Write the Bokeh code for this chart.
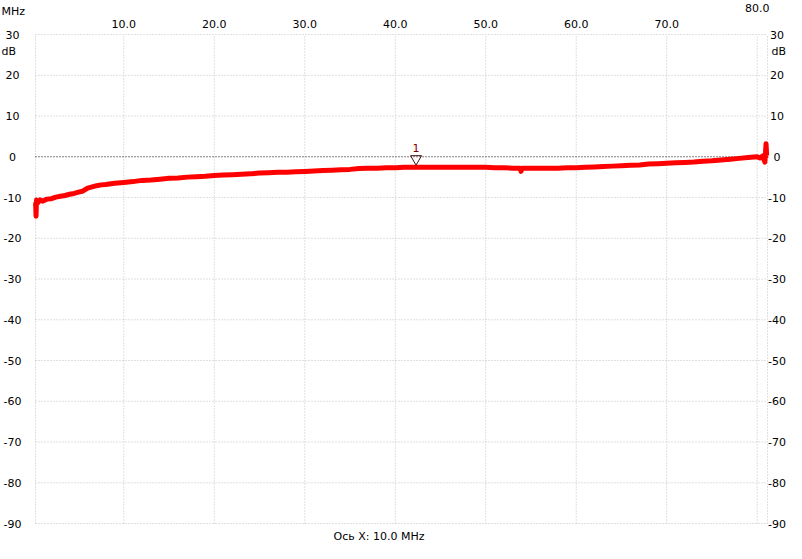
from bokeh.plotting import figure
from bokeh.models import Range1d, LinearAxis, FixedTicker, Label, ColumnDataSource
from bokeh.core.properties import value
from bokeh.embed import file_html
from bokeh.resources import INLINE

# ---- data ----
freq_mhz = [0.25, 0.3, 0.35, 0.5, 0.75, 1.0, 1.5, 2.0, 2.5, 3.0, 3.5, 4.0, 4.5, 5.0, 5.5,
            6.0, 6.5, 7.0, 7.5, 8.0, 9.0, 10, 11, 12, 13, 14, 15, 16, 17, 18, 19, 20,
            21, 22, 23, 24, 25, 26, 27, 28, 29, 30, 31, 32, 33, 34, 35, 36, 37, 38, 39, 40,
            41, 42, 43, 44, 45, 46, 47, 48, 49, 50, 51, 52, 53, 53.8, 53.9, 54.0, 55, 56, 57, 58, 59, 60,
            61, 62, 63, 64, 65, 66, 67, 68, 69, 70, 71, 72, 73, 74, 75, 76, 77, 78, 79, 80,
            80.3, 80.6, 80.85, 80.98, 81.05, 81.12]
level_db = [-11.2, -14.6, -10.6, -11.3, -10.6, -10.9, -10.4, -10.3, -9.9, -9.7, -9.5, -9.2, -9.0, -8.7, -8.4,
            -7.7, -7.4, -7.1, -6.9, -6.8, -6.5, -6.3, -6.1, -5.8, -5.7, -5.5, -5.3, -5.2, -5.0, -4.9, -4.8, -4.6,
            -4.5, -4.4, -4.3, -4.2, -4.0, -3.9, -3.8, -3.8, -3.7, -3.6, -3.5, -3.4, -3.3, -3.2, -3.1, -2.9, -2.8, -2.8, -2.7, -2.7,
            -2.6, -2.6, -2.6, -2.6, -2.6, -2.6, -2.6, -2.6, -2.6, -2.6, -2.7, -2.7, -2.8, -2.8, -3.6, -2.8, -2.8, -2.8, -2.8, -2.8, -2.7, -2.7,
            -2.6, -2.5, -2.4, -2.3, -2.2, -2.1, -2.0, -1.8, -1.7, -1.6, -1.5, -1.4, -1.3, -1.1, -1.0, -0.8, -0.6, -0.4, -0.2, 0.0,
            -0.3, 0.2, -1.3, 3.2, 0.3, 0.4]

x_start, x_end = 0.24, 81.14         # MHz span of the plot area
y_start, y_end = -90, 30             # dB span of the plot area
x_ticks = [10, 20, 30, 40, 50, 60, 70]
x_tick_labels = ["10.0", "20.0", "30.0", "40.0", "50.0", "60.0", "70.0"]
x_ticks_far = [80]
x_tick_labels_far = ["80.0"]
y_ticks = [30, 20, 10, 0, -10, -20, -30, -40, -50, -60, -70, -80, -90]
y_tick_labels = ["30", "20", "10", "0", "-10", "-20", "-30", "-40", "-50", "-60", "-70", "-80", "-90"]
grid_y = [20, 10, -10, -20, -30, -40, -50, -60, -70, -80]
ref_level = [0]
marker_freq = [42.3]
marker_db = [-2.6]
marker_name = ["1"]
x_unit = "MHz"
y_unit = "dB"
scale_text = "Ось X: 10.0 MHz"

# ---- styling / layout ----
FONT = "DejaVu Sans"
FS = "11px"
W, H = 786, 543
ML, MR, MT, MB = 35, 19, 34, 20      # plot-area margins inside the canvas (px)
GRID = "#c0c0c0"

px_x = (W - ML - MR) / (x_end - x_start)
px_y = (H - MT - MB) / (y_end - y_start)
x_lo, x_hi = x_start - ML / px_x, x_end + MR / px_x
y_lo, y_hi = y_start - MB / px_y, y_end + MT / px_y

p = figure(width=W, height=H, output_backend="svg", toolbar_location=None,
           x_range=Range1d(x_lo, x_hi), y_range=Range1d(y_lo, y_hi),
           x_axis_location=None, y_axis_location=None,
           min_border=0, min_border_left=0, min_border_right=0,
           min_border_top=0, min_border_bottom=0,
           background_fill_color="white", border_fill_color="white")
p.outline_line_color = None
p.xgrid.visible = False
p.ygrid.visible = False


def style_axis(ax, standoff):
    ax.axis_line_color = None
    ax.major_tick_line_color = None
    ax.minor_tick_line_color = None
    ax.major_label_standoff = standoff
    ax.major_label_text_font = FONT
    ax.major_label_text_font_size = FS
    ax.major_label_text_color = "black"
    return ax


xa = style_axis(LinearAxis(ticker=FixedTicker(ticks=x_ticks), fixed_location=y_end,
                           major_label_overrides=dict(zip(x_ticks, x_tick_labels))), 1)
xb = style_axis(LinearAxis(ticker=FixedTicker(ticks=x_ticks_far), fixed_location=y_end,
                           major_label_overrides=dict(zip(x_ticks_far, x_tick_labels_far))), 17)
p.add_layout(xa, "above")
p.add_layout(xb, "above")

# dotted grid of the plot area (edges included)
vx = [x_start] + x_ticks + x_ticks_far + [x_end]
p.segment(x0=vx, y0=[y_start] * len(vx), x1=vx, y1=[y_end] * len(vx),
          line_color=GRID, line_dash="1 2", line_width=1)
hy = [y_end] + grid_y + [y_start]
p.segment(x0=[x_start] * len(hy), y0=hy, x1=[x_end] * len(hy), y1=hy,
          line_color=GRID, line_dash="1 2", line_width=1)
p.segment(x0=[x_start], y0=ref_level, x1=[x_end], y1=ref_level,
          line_color="black", line_dash="1 2", line_width=1)

# dB scale labels on both sides (centred, like the reference)
n = len(y_ticks)
p.text(x=[x_start] * n, y=y_ticks, text=y_tick_labels, x_offset=-23,
       text_align="center", text_baseline="middle", text_font=value(FONT),
       text_font_size=FS, text_color="black")
p.text(x=[x_end] * n, y=y_ticks, text=y_tick_labels, x_offset=9.5,
       text_align="center", text_baseline="middle", text_font=value(FONT),
       text_font_size=FS, text_color="black")

# trace
src = ColumnDataSource(dict(f=freq_mhz, db=level_db))
p.line("f", "db", source=src, line_color="#ff0000", line_width=5, line_join="round")

# marker 1
tri_y = [m + 8.5 / px_y for m in marker_db]
p.scatter(marker_freq, tri_y, marker="inverted_triangle", size=11,
          fill_color=None, line_color="#4a1010", line_width=1)
msrc = ColumnDataSource(dict(f=marker_freq, db=marker_db, name=marker_name))
p.text("f", "db", text="name", source=msrc, y_offset=-19, text_align="center",
       text_baseline="middle", text_font=value(FONT), text_font_size=FS, text_color="#800000")


def lab(txt, x, y, baseline="middle"):
    p.add_layout(Label(x=x, y=y, x_units="screen", y_units="screen", text=txt,
                       text_font=FONT, text_font_size=FS, text_color="black",
                       text_align="left", text_baseline=baseline))


lab(x_unit, 1, H - 4, baseline="top")
lab(y_unit, 1, H - 50.5)
lab(y_unit, 771, H - 50.5)
lab(scale_text, 333, 1, baseline="bottom")

open("out.html", "w").write(file_html(p, INLINE))
